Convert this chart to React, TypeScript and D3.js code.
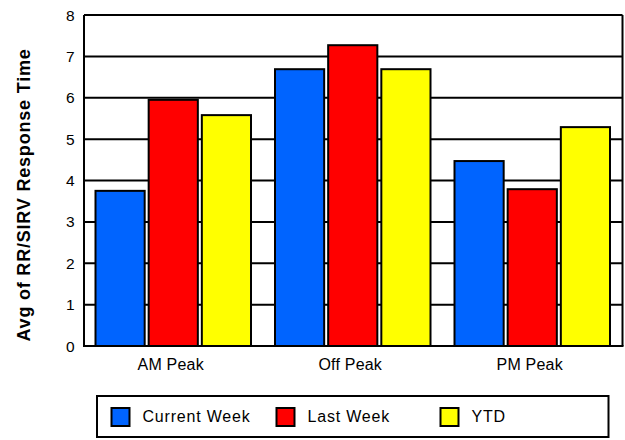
import React from "react";
import * as d3 from "d3";

const categories = ["AM Peak", "Off Peak", "PM Peak"];
const seriesNames = ["Current Week", "Last Week", "YTD"];
const currentWeek = [3.75, 6.69, 4.47];
const lastWeek = [5.95, 7.27, 3.79];
const ytd = [5.58, 6.69, 5.29];
const yTicks = [0, 1, 2, 3, 4, 5, 6, 7, 8];
const colors = ["#0064FF", "#FF0000", "#FFFF00"];

const W = 625;
const H = 440;
const M = { left: 84, right: 2.5, top: 15, bottom: 94 };
const FONT = "'Liberation Sans', Arial, sans-serif";

export default function App() {
  const series = [currentWeek, lastWeek, ytd];
  const x = d3
    .scaleBand<string>()
    .domain(categories)
    .range([M.left, W - M.right])
    .paddingInner(0)
    .paddingOuter(0);
  const inner = d3
    .scaleBand<string>()
    .domain(seriesNames)
    .range([11.5, x.bandwidth() - 12.5])
    .paddingInner(0.075)
    .paddingOuter(0);
  const y = d3.scaleLinear().domain([0, 8]).range([H - M.bottom, M.top]);

  const legendX = [111.5, 276.5, 440.5];
  return (
    <svg
      width={W}
      height={H}
      style={{ position: "absolute", left: 0, top: 0, fontFamily: FONT }}
    >
      <rect x={0} y={0} width={W} height={H} fill="#fff" />
      {yTicks.map((t) => (
        <g key={t}>
          <line
            x1={M.left}
            x2={W - M.right}
            y1={y(t)}
            y2={y(t)}
            stroke="#000"
            strokeWidth={2}
          />
          <text
            x={74.5}
            y={y(t)}
            dy="0.36em"
            textAnchor="end"
            fontSize={15.5}
            fill="#000"
          >
            {t}
          </text>
        </g>
      ))}
      <line x1={M.left} x2={M.left} y1={M.top} y2={y(0)} stroke="#000" strokeWidth={2} />
      <line
        x1={W - M.right}
        x2={W - M.right}
        y1={M.top}
        y2={y(0)}
        stroke="#000"
        strokeWidth={2}
      />
      {categories.map((c, ci) =>
        series.map((s, si) => (
          <rect
            key={c + si}
            x={(x(c) as number) + (inner(seriesNames[si]) as number)}
            y={y(s[ci])}
            width={inner.bandwidth()}
            height={y(0) - y(s[ci])}
            fill={colors[si]}
            stroke="#000"
            strokeWidth={2}
          />
        ))
      )}
      <line x1={M.left - 1} x2={W - M.right + 1} y1={y(0)} y2={y(0)} stroke="#000" strokeWidth={2} />
      {categories.map((c) => (
        <text
          key={c}
          x={(x(c) as number) + x.bandwidth() / 2 - 3}
          y={364}
          dy="0.36em"
          textAnchor="middle"
          fontSize={16}
          letterSpacing={0.2}
          fill="#000"
        >
          {c}
        </text>
      ))}
      <text
        transform={`translate(30, 195) rotate(-90)`}
        textAnchor="middle"
        fontSize={18}
        letterSpacing={0.8}
        fontWeight="bold"
        fill="#000"
      >
        Avg of RR/SIRV Response Time
      </text>
      <rect x={97} y={396} width={511.5} height={41} fill="#fff" stroke="#000" strokeWidth={2} />
      {seriesNames.map((n, i) => (
        <g key={n}>
          <rect
            x={legendX[i]}
            y={408}
            width={18}
            height={18}
            fill={colors[i]}
            stroke="#000"
            strokeWidth={2}
          />
          <text
            x={legendX[i] + 31}
            y={416.5}
            dy="0.36em"
            fontSize={16}
            letterSpacing={0.8}
            fill="#000"
          >
            {n}
          </text>
        </g>
      ))}
    </svg>
  );
}
